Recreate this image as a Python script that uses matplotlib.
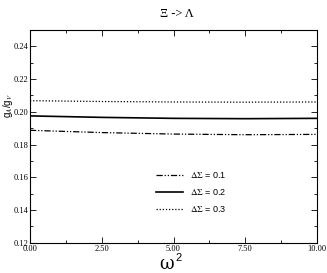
import numpy as np
import matplotlib
matplotlib.use('Agg')
import matplotlib.pyplot as plt
from matplotlib.ticker import MultipleLocator, FormatStrFormatter

# omega^2 values and g_A/g_V curves
omega2 = [0.0, 2.5, 5.0, 7.5, 10.0]
ds_01 = [0.1887, 0.1873, 0.1864, 0.1860, 0.1862]
ds_02 = [0.1975, 0.1966, 0.1960, 0.1958, 0.1960]
ds_03 = [0.2068, 0.2063, 0.2060, 0.2059, 0.2060]

plt.rcParams['mathtext.fontset'] = 'stix'

fig = plt.figure(figsize=(3.27, 2.73), dpi=100)
ax = fig.add_axes([30/327, 1 - 242.7/273, 287/327, (242.7 - 30)/273])

ax.plot(omega2, ds_01, color='black', linewidth=0.9, dashes=(5, 1.5, 1, 1.5, 1, 1.5), label=r'$\Delta\Sigma$ = 0.1')
ax.plot(omega2, ds_02, color='black', linewidth=1.2, label=r'$\Delta\Sigma$ = 0.2')
ax.plot(omega2, ds_03, color='black', linewidth=0.9, linestyle=(0, (1, 1.5)), label=r'$\Delta\Sigma$ = 0.3')

ax.set_xlim(0, 10)
ax.set_ylim(0.12, 0.25)
ax.xaxis.set_major_locator(MultipleLocator(2.5))
ax.xaxis.set_minor_locator(MultipleLocator(1.25))
ax.yaxis.set_major_locator(MultipleLocator(0.02))
ax.yaxis.set_minor_locator(MultipleLocator(0.01))
ax.xaxis.set_major_formatter(FormatStrFormatter('%.2f'))
ax.yaxis.set_major_formatter(FormatStrFormatter('%.2f'))
ax.tick_params(which='both', direction='in', top=True, right=True)
ax.tick_params(which='major', length=4, width=0.6, labelsize=6)
ax.tick_params(which='minor', length=2, width=0.6)
ax.tick_params(axis='x', pad=2)
ax.tick_params(axis='y', pad=1)
for lab in ax.get_xticklabels() + ax.get_yticklabels():
    lab.set_fontfamily('Liberation Serif')
for s in ax.spines.values():
    s.set_linewidth(0.8)

# x label: omega^2, serif omega with sans superscript
fig.text(174/327, 1 - 264/273, 'ω', ha='right', va='center', fontsize=13, family='DejaVu Serif')
fig.text(175/327, 1 - 258/273, '2', ha='left', va='center', fontsize=8, family='Liberation Sans')
fig.text(8/327, 1 - 105/273, r'g$_A$/g$_V$', ha='center', va='center', rotation=90, fontsize=7,
         family='Liberation Sans')
fig.text(177/327, 1 - 14/273, 'Ξ -> Λ', ha='center', va='center', fontsize=9, family='Liberation Serif')

leg = ax.legend(loc='upper left', bbox_to_anchor=(0.41, 0.38), frameon=False, fontsize=6.5,
                handlelength=3, labelspacing=0.8, handletextpad=0.8)
for t in leg.get_texts():
    t.set_fontfamily('Liberation Sans')

fig.savefig('out.png', dpi=100)
